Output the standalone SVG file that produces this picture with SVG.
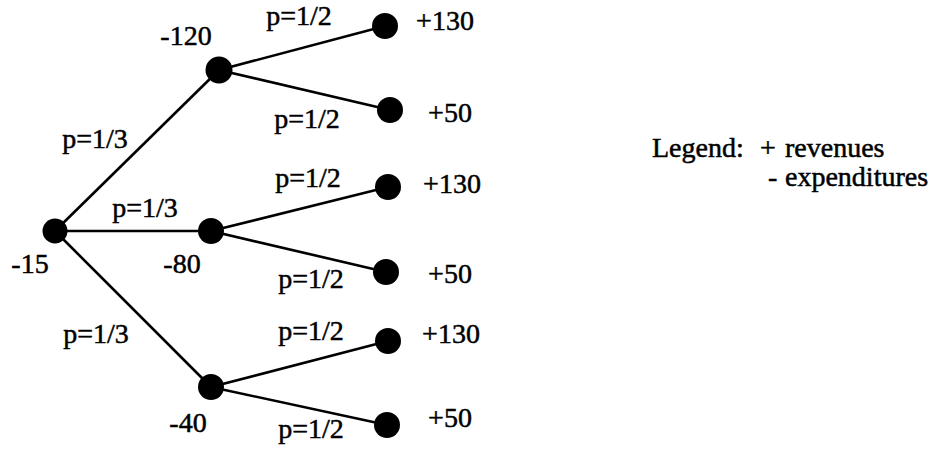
<svg xmlns="http://www.w3.org/2000/svg" width="932" height="456" viewBox="0 0 932 456">
<style>
text{font-family:'Liberation Serif','DejaVu Serif','Times New Roman',serif;font-size:28px;fill:#000;stroke:#000;stroke-width:0.5;text-anchor:middle}
.l{text-anchor:start}
.n{fill:#000}
.e{stroke:#000;stroke-width:2.6;fill:none}
</style>
<rect width="932" height="456" fill="#fff"/>
<g id="connectors">
<line class="e" x1="55" y1="231" x2="219" y2="70"/>
<line class="e" x1="55" y1="231" x2="211" y2="231"/>
<line class="e" x1="55" y1="231" x2="211" y2="387"/>
<line class="e" x1="219" y1="70" x2="385" y2="26"/>
<line class="e" x1="219" y1="70" x2="390" y2="110"/>
<line class="e" x1="211" y1="231" x2="388" y2="187"/>
<line class="e" x1="211" y1="231" x2="386" y2="272"/>
<line class="e" x1="211" y1="387" x2="388" y2="341"/>
<line class="e" x1="211" y1="387" x2="387" y2="425"/>
<text x="95" y="148">p=1/3</text>
<text x="145" y="217">p=1/3</text>
<text x="96" y="343">p=1/3</text>
<text x="299" y="25">p=1/2</text>
<text x="307" y="128">p=1/2</text>
<text x="308" y="187">p=1/2</text>
<text x="311" y="288">p=1/2</text>
<text x="311" y="340">p=1/2</text>
<text x="311" y="438">p=1/2</text>
</g>
<g id="root"><circle class="n" cx="55" cy="231" r="12.5"/><text x="30" y="273">-15</text></g>
<g id="n120"><circle class="n" cx="219" cy="70" r="13.5"/><text x="186" y="45">-120</text></g>
<g id="n80"><circle class="n" cx="211" cy="231" r="13"/><text x="182" y="273">-80</text></g>
<g id="n40"><circle class="n" cx="211" cy="387" r="13"/><text x="188" y="432">-40</text></g>
<g id="leaf1"><circle class="n" cx="385" cy="26" r="13"/><text x="445" y="30">+130</text></g>
<g id="leaf2"><circle class="n" cx="390" cy="110" r="13"/><text x="450" y="122">+50</text></g>
<g id="leaf3"><circle class="n" cx="388" cy="187" r="13"/><text x="452" y="193">+130</text></g>
<g id="leaf4"><circle class="n" cx="386" cy="272" r="13"/><text x="450" y="283">+50</text></g>
<g id="leaf5"><circle class="n" cx="388" cy="341" r="13"/><text x="451" y="343">+130</text></g>
<g id="leaf6"><circle class="n" cx="387" cy="425" r="13"/><text x="450" y="427">+50</text></g>
<g id="legend">
<text class="l" x="652" y="157">Legend:</text>
<text class="l" x="760" y="157">+</text>
<text class="l" x="785" y="157">revenues</text>
<text class="l" x="768" y="186">-</text>
<text class="l" x="785" y="186">expenditures</text>
</g>
</svg>
